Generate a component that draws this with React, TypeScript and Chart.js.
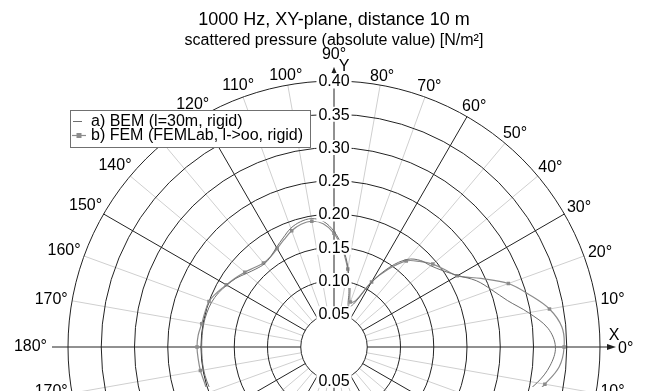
import React, { useEffect, useRef } from 'react';
import { Chart, registerables } from 'chart.js';

Chart.register(...registerables);

// ---------- data ----------
const TITLE = '1000 Hz, XY-plane, distance 10 m';
const SUBTITLE = 'scattered pressure (absolute value) [N/m²]';
const seriesNames = ['a) BEM (l=30m, rigid)', 'b) FEM (FEMLab, l->oo, rigid)'];

// direction in degrees (0 = +X, counter-clockwise)
const angleDeg = [
  0, 5, 10, 15, 20, 25, 30, 35, 40, 45, 50, 55, 60, 65, 70, 75, 80, 85,
  90, 95, 100, 105, 110, 115, 120, 125, 130, 135, 140, 145, 150, 155, 160, 165, 170, 175,
  180, 185, 190, 195, 200, 205, 210, 215, 220, 225, 230, 235, 240, 245, 250, 255, 260, 265,
  270, 275, 280, 285, 290, 295, 300, 305, 310, 315, 320, 325, 330, 335, 340, 345, 350, 355,
];

// |p| [N/m²]
const bemValues = [
  0.333, 0.323, 0.297, 0.270, 0.252, 0.236, 0.215, 0.200, 0.190, 0.184, 0.172, 0.147, 0.112, 0.073, 0.064, 0.087, 0.121, 0.150,
  0.174, 0.190, 0.196, 0.195, 0.190, 0.181, 0.173, 0.166, 0.163, 0.166, 0.172, 0.180, 0.186, 0.192, 0.196, 0.198, 0.199, 0.199,
  0.199, 0.199, 0.199, 0.198, 0.196, 0.192, 0.186, 0.180, 0.172, 0.166, 0.163, 0.166, 0.173, 0.181, 0.190, 0.195, 0.196, 0.190,
  0.174, 0.150, 0.121, 0.087, 0.064, 0.073, 0.112, 0.147, 0.172, 0.184, 0.190, 0.200, 0.215, 0.236, 0.252, 0.287, 0.310, 0.326,
];
const femValues = [
  0.346, 0.344, 0.329, 0.304, 0.279, 0.244, 0.214, 0.203, 0.194, 0.182, 0.169, 0.143, 0.113, 0.077, 0.072, 0.093, 0.119, 0.147,
  0.171, 0.186, 0.192, 0.191, 0.186, 0.178, 0.171, 0.166, 0.165, 0.169, 0.175, 0.181, 0.187, 0.194, 0.200, 0.201, 0.202, 0.205,
  0.206, 0.205, 0.204, 0.202, 0.201, 0.195, 0.187, 0.181, 0.175, 0.169, 0.165, 0.166, 0.171, 0.178, 0.186, 0.191, 0.192, 0.186,
  0.171, 0.147, 0.119, 0.093, 0.072, 0.077, 0.113, 0.143, 0.169, 0.182, 0.194, 0.203, 0.214, 0.244, 0.279, 0.304, 0.322, 0.340,
];

const radialTicks = [0.05, 0.1, 0.15, 0.2, 0.25, 0.3, 0.35, 0.4];
const angleTicks = [
  0, 10, 20, 30, 40, 50, 60, 70, 80, 90, 100, 110, 120, 130, 140, 150, 160, 170,
  180, 190, 200, 210, 220, 230, 240, 250, 260, 270, 280, 290, 300, 310, 320, 330, 340, 350,
];
const markerStep = 10; // FEM markers every 10°

// ---------- layout / style ----------
const W = 645;
const H = 391;
const CENTER_X = 334;
const CENTER_Y = 347;
const PX_PER_UNIT = 665;
const PAD_LEFT = 23;
const TITLE_SIZE = 18;
const SUB_SIZE = 16;
const TITLE_PAD_TOP = 9;
const FONT = "'Liberation Sans', Arial, Helvetica, sans-serif";
const BEM_COLOR = '#6e6e6e';
const FEM_COLOR = '#8c8c8c';
const R_MAX = radialTicks[radialTicks.length - 1];
const R_MIN = radialTicks[0];

const rad = (d: number) => (d * Math.PI) / 180;

function toPoints(values: number[]) {
  const start = angleDeg.indexOf(270);
  const pts: { x: number; y: number; deg: number }[] = [];
  for (let j = 0; j <= angleDeg.length; j++) {
    const i = (start + j) % angleDeg.length;
    const a = rad(angleDeg[i]);
    pts.push({ x: values[i] * Math.cos(a), y: values[i] * Math.sin(a), deg: angleDeg[i] });
  }
  return pts;
}

function geom(chart: any) {
  const x = chart.scales.x;
  const y = chart.scales.y;
  const cx = x.getPixelForValue(0);
  const cy = y.getPixelForValue(0);
  const k = x.getPixelForValue(1) - cx;
  const p = (r: number, d: number) => [cx + r * k * Math.cos(rad(d)), cy - r * k * Math.sin(rad(d))];
  return { cx, cy, k, p };
}

const polarGrid = {
  id: 'polarGrid',
  beforeDatasetsDraw(chart: any) {
    const { ctx } = chart;
    const { cx, cy, k, p } = geom(chart);
    const axisR = R_MAX + 16 / k;
    ctx.save();
    ctx.lineWidth = 1;
    // light spokes
    ctx.strokeStyle = '#cfcfcf';
    angleTicks.forEach((d) => {
      if (d % 30 === 0) return;
      const [x0, y0] = p(R_MIN, d);
      const [x1, y1] = p(R_MAX, d);
      ctx.beginPath();
      ctx.moveTo(x0, y0);
      ctx.lineTo(x1, y1);
      ctx.stroke();
    });
    // dark spokes
    ctx.strokeStyle = '#222';
    angleTicks.forEach((d) => {
      if (d % 30 !== 0 || d % 90 === 0) return;
      const [x0, y0] = p(R_MIN, d);
      const [x1, y1] = p(R_MAX, d);
      ctx.beginPath();
      ctx.moveTo(x0, y0);
      ctx.lineTo(x1, y1);
      ctx.stroke();
    });
    // circles
    radialTicks.forEach((r) => {
      ctx.beginPath();
      ctx.arc(cx, cy, r * k, 0, Math.PI * 2);
      ctx.stroke();
    });
    // axes
    [0, 90, 180, 270].forEach((d) => {
      const [x0, y0] = p(R_MIN, d);
      const [x1, y1] = p(d === 0 || d === 90 ? axisR - 4 / k : axisR, d);
      ctx.beginPath();
      ctx.moveTo(x0, y0);
      ctx.lineTo(x1, y1);
      ctx.stroke();
    });
    // arrow heads
    ctx.fillStyle = '#222';
    const [ax, ay] = p(axisR, 0);
    ctx.beginPath();
    ctx.moveTo(ax, ay);
    ctx.lineTo(ax - 9, ay - 3);
    ctx.lineTo(ax - 9, ay + 3);
    ctx.closePath();
    ctx.fill();
    const [bx, by] = p(axisR - 2 / k, 90);
    ctx.beginPath();
    ctx.moveTo(bx, by);
    ctx.lineTo(bx - 2.5, by + 6);
    ctx.lineTo(bx + 2.5, by + 6);
    ctx.closePath();
    ctx.fill();
    ctx.restore();
  },
  afterDatasetsDraw(chart: any) {
    const { ctx } = chart;
    const { cx, cy, k, p } = geom(chart);
    ctx.save();
    ctx.font = `16px ${FONT}`;
    ctx.textBaseline = 'middle';
    ctx.textAlign = 'center';
    // radial tick labels on the vertical axis
    radialTicks.forEach((r) => {
      const txt = r.toFixed(2);
      const w = ctx.measureText(txt).width;
      [cy - r * k, cy + r * k].forEach((yy) => {
        ctx.fillStyle = '#fff';
        ctx.fillRect(cx - w / 2 - 2, yy - 7.5, w + 4, 15);
        ctx.fillStyle = '#000';
        ctx.fillText(txt, cx, yy + 1);
      });
    });
    // angle labels (lower half labelled by its mirror angle)
    const r0 = 270;
    angleTicks.forEach((d) => {
      const txt = `${d > 180 ? 360 - d : d}°`;
      ctx.fillStyle = '#000';
      if (d === 0) {
        ctx.textAlign = 'left';
        ctx.fillText(txt, cx + 284, cy + 2);
        ctx.textAlign = 'center';
        ctx.fillText('X', cx + 280, cy - 11);
        return;
      }
      if (d === 90) {
        ctx.fillText(txt, cx, cy - 292);
        ctx.fillText('Y', cx + 10, cy - 280);
        return;
      }
      if (d === 180) {
        ctx.textAlign = 'right';
        ctx.fillText(txt, cx - 287, cy);
        ctx.textAlign = 'center';
        return;
      }
      const w = ctx.measureText(txt).width;
      const c = Math.abs(Math.cos(rad(d)));
      const s = Math.abs(Math.sin(rad(d)));
      const rr = (r0 + (w / 2) * c + 5 * s) / k;
      const [lx, ly] = p(rr, d);
      ctx.fillText(txt, lx, ly + (d < 180 ? 2 : -5));
    });
    // legend
    const lx = 70, ly = 110, lw = 240, lh = 37;
    ctx.fillStyle = '#fff';
    ctx.fillRect(lx, ly, lw, lh);
    ctx.strokeStyle = '#707070';
    ctx.lineWidth = 1;
    ctx.strokeRect(lx + 0.5, ly + 0.5, lw, lh);
    ctx.textAlign = 'left';
    ctx.fillStyle = '#000';
    ctx.fillText(seriesNames[0], lx + 21, ly + 12);
    ctx.fillText(seriesNames[1], lx + 21, ly + 26);
    ctx.strokeStyle = BEM_COLOR;
    ctx.beginPath();
    ctx.moveTo(lx + 3, ly + 11.5);
    ctx.lineTo(lx + 12, ly + 11.5);
    ctx.stroke();
    ctx.strokeStyle = FEM_COLOR;
    ctx.lineWidth = 1.2;
    ctx.beginPath();
    ctx.moveTo(lx + 2, ly + 25.5);
    ctx.lineTo(lx + 16, ly + 25.5);
    ctx.stroke();
    ctx.fillStyle = FEM_COLOR;
    ctx.fillRect(lx + 6.5, ly + 23, 5, 5);
    ctx.restore();
  },
};

export default function App() {
  const ref = useRef<HTMLCanvasElement>(null);
  useEffect(() => {
    if (!ref.current) return;
    const chart: any = new Chart(ref.current, {
      type: 'scatter',
      data: {
        datasets: [
          {
            label: seriesNames[0],
            data: toPoints(bemValues),
            showLine: true,
            borderColor: BEM_COLOR,
            borderWidth: 1,
            pointRadius: 0,
            tension: 0.35,
          },
          {
            label: seriesNames[1],
            data: toPoints(femValues),
            showLine: true,
            borderColor: FEM_COLOR,
            backgroundColor: FEM_COLOR,
            borderWidth: 1.2,
            pointStyle: 'rect',
            pointRadius: (c: any) => (c.raw && c.raw.deg % markerStep === 0 ? 2.5 : 0),
            pointBorderWidth: 0,
            tension: 0.35,
          },
        ],
      },
      options: {
        responsive: false,
        animation: false,
        events: [],
        layout: { padding: { left: PAD_LEFT, right: 0, top: 0, bottom: 0 } },
        plugins: {
          legend: { display: false },
          tooltip: { enabled: false },
          title: {
            display: true,
            text: TITLE,
            color: '#000',
            font: { size: TITLE_SIZE, family: FONT, weight: 'normal', lineHeight: 1.2 },
            padding: { top: TITLE_PAD_TOP, bottom: 0 },
          },
          subtitle: {
            display: true,
            text: SUBTITLE,
            color: '#000',
            font: { size: SUB_SIZE, family: FONT, weight: 'normal', lineHeight: 1.2 },
            padding: { top: 0, bottom: 0 },
          },
        },
        scales: {
          x: { type: 'linear', display: false, min: -0.5, max: 0.5 },
          y: { type: 'linear', display: false, min: -0.1, max: 0.5 },
        },
      } as any,
      plugins: [polarGrid],
    });
    // fit the value ranges to the real plot area so that the pole sits at the
    // wanted pixel and both axes share one scale
    const ca = chart.chartArea;
    chart.options.scales.x.min = (ca.left - CENTER_X) / PX_PER_UNIT;
    chart.options.scales.x.max = (ca.right - CENTER_X) / PX_PER_UNIT;
    chart.options.scales.y.min = (CENTER_Y - ca.bottom) / PX_PER_UNIT;
    chart.options.scales.y.max = (CENTER_Y - ca.top) / PX_PER_UNIT;
    chart.update();
    return () => chart.destroy();
  }, []);
  return (
    <div style={{ position: 'fixed', left: 0, top: 0, width: W, height: H, background: '#fff' }}>
      <canvas ref={ref} width={W} height={H} style={{ display: 'block' }} />
    </div>
  );
}
